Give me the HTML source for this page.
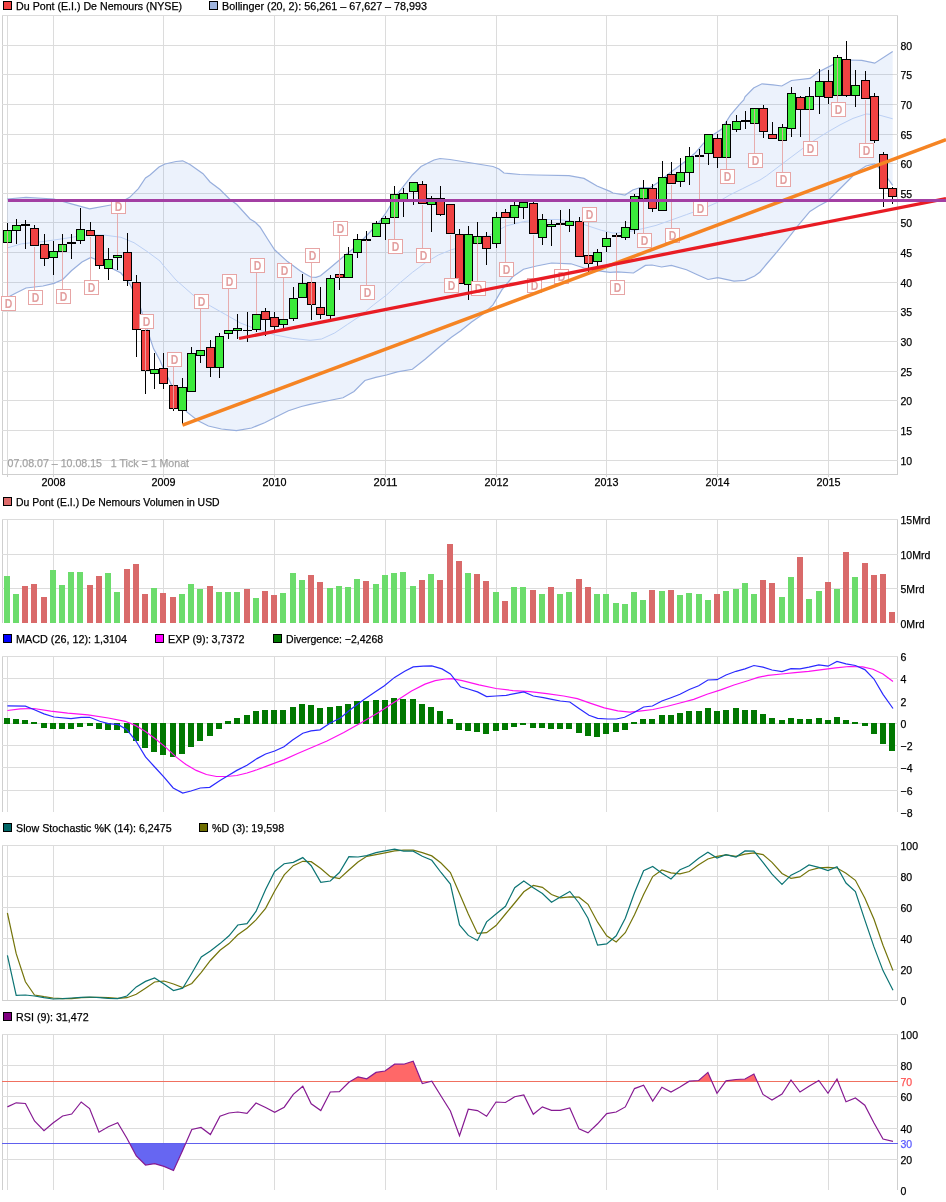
<!DOCTYPE html>
<html><head><meta charset="utf-8"><title>Chart</title>
<style>html,body{margin:0;padding:0;background:#fff}svg{display:block;will-change:transform}text{font-family:"Liberation Sans",sans-serif}</style>
</head><body>
<svg width="946" height="1202" viewBox="0 0 946 1202">
<rect width="946" height="1202" fill="#fff"/>
<rect x="2" y="15" width="1" height="459" fill="#cfcfcf"/>
<rect x="7" y="15" width="1" height="459" fill="#dcdcdc"/>
<rect x="897" y="15" width="1" height="459" fill="#cfcfcf"/>
<rect x="53" y="15" width="1" height="459" fill="#dcdcdc"/>
<rect x="163" y="15" width="1" height="459" fill="#dcdcdc"/>
<rect x="274" y="15" width="1" height="459" fill="#dcdcdc"/>
<rect x="385" y="15" width="1" height="459" fill="#dcdcdc"/>
<rect x="496" y="15" width="1" height="459" fill="#dcdcdc"/>
<rect x="606" y="15" width="1" height="459" fill="#dcdcdc"/>
<rect x="717" y="15" width="1" height="459" fill="#dcdcdc"/>
<rect x="828" y="15" width="1" height="459" fill="#dcdcdc"/>
<rect x="2" y="15" width="896" height="1" fill="#dcdcdc"/>
<rect x="2" y="45" width="896" height="1" fill="#dcdcdc"/>
<rect x="2" y="74" width="896" height="1" fill="#dcdcdc"/>
<rect x="2" y="104" width="896" height="1" fill="#dcdcdc"/>
<rect x="2" y="134" width="896" height="1" fill="#dcdcdc"/>
<rect x="2" y="163" width="896" height="1" fill="#dcdcdc"/>
<rect x="2" y="193" width="896" height="1" fill="#dcdcdc"/>
<rect x="2" y="222" width="896" height="1" fill="#dcdcdc"/>
<rect x="2" y="252" width="896" height="1" fill="#dcdcdc"/>
<rect x="2" y="282" width="896" height="1" fill="#dcdcdc"/>
<rect x="2" y="311" width="896" height="1" fill="#dcdcdc"/>
<rect x="2" y="341" width="896" height="1" fill="#dcdcdc"/>
<rect x="2" y="371" width="896" height="1" fill="#dcdcdc"/>
<rect x="2" y="400" width="896" height="1" fill="#dcdcdc"/>
<rect x="2" y="430" width="896" height="1" fill="#dcdcdc"/>
<rect x="2" y="460" width="896" height="1" fill="#dcdcdc"/>
<rect x="2" y="474" width="896" height="1" fill="#cfcfcf"/>
<rect x="7" y="474" width="1" height="3" fill="#cfcfcf"/>
<rect x="53" y="474" width="1" height="3" fill="#cfcfcf"/>
<rect x="163" y="474" width="1" height="3" fill="#cfcfcf"/>
<rect x="274" y="474" width="1" height="3" fill="#cfcfcf"/>
<rect x="385" y="474" width="1" height="3" fill="#cfcfcf"/>
<rect x="496" y="474" width="1" height="3" fill="#cfcfcf"/>
<rect x="606" y="474" width="1" height="3" fill="#cfcfcf"/>
<rect x="717" y="474" width="1" height="3" fill="#cfcfcf"/>
<rect x="828" y="474" width="1" height="3" fill="#cfcfcf"/>
<polygon points="7.0,199.0 26.0,197.3 54.0,199.0 71.4,203.8 89.7,208.8 108.0,205.5 117.8,203.8 129.7,197.3 138.4,188.6 145.5,178.0 150.0,175.0 159.0,167.0 165.0,164.0 176.0,161.5 182.7,160.8 190.0,164.5 203.0,173.7 210.0,182.0 220.0,189.5 230.0,199.5 236.8,204.5 250.0,219.0 255.0,222.0 260.0,227.0 267.6,239.0 274.6,249.8 287.5,261.6 300.0,270.8 304.5,273.5 310.8,277.0 316.0,277.3 320.5,275.7 330.0,268.0 343.0,257.0 356.0,246.5 371.0,231.0 380.0,221.0 386.5,212.0 397.0,194.6 412.4,175.0 421.0,166.5 434.0,160.0 440.0,158.5 450.0,159.5 471.6,163.0 493.0,166.5 499.0,169.0 504.0,173.0 520.0,174.5 536.5,175.0 569.0,175.6 584.0,178.4 597.0,186.0 610.0,191.4 613.0,193.0 625.0,195.1 632.7,190.0 640.3,187.5 650.4,187.5 658.0,182.5 671.0,172.0 686.5,160.5 694.8,153.3 703.7,143.1 713.9,134.3 721.5,129.2 730.4,115.2 740.0,103.8 743.8,100.0 745.0,96.8 753.6,88.0 762.0,83.8 773.0,84.9 781.8,86.0 791.5,80.5 810.0,78.4 818.5,71.9 831.5,65.4 840.0,61.0 848.8,60.0 861.8,60.4 874.7,63.2 892.7,51.4 892.7,185.4 883.0,172.0 874.7,163.8 866.0,166.0 857.4,171.4 848.8,180.0 838.0,190.8 827.0,201.6 818.5,206.0 809.9,211.4 799.0,224.3 788.0,238.4 777.4,251.4 766.6,264.0 760.0,272.0 754.6,276.0 745.0,280.3 734.0,281.2 717.8,277.7 708.0,279.5 697.3,274.7 686.5,269.7 671.4,265.4 661.6,267.0 652.0,265.0 645.4,265.4 633.5,273.0 617.3,271.9 610.0,272.4 597.0,270.7 584.0,268.0 571.0,263.8 551.6,263.0 536.5,266.0 523.5,269.2 512.7,276.8 502.0,289.7 493.0,304.9 482.4,314.6 471.6,322.0 460.8,330.8 451.4,337.3 440.5,346.0 425.4,359.0 412.4,369.3 397.3,371.9 386.5,375.0 375.7,377.3 364.9,380.5 354.0,391.4 343.0,397.8 321.6,402.0 310.0,404.3 301.4,406.5 288.4,410.8 275.4,417.3 264.6,422.7 251.6,428.0 236.5,430.7 221.4,429.0 208.4,426.0 197.6,420.5 186.8,411.9 180.0,402.0 172.0,386.0 163.0,367.6 160.0,360.5 153.5,348.6 147.0,329.0 138.4,301.0 129.7,283.8 121.0,273.0 112.4,268.6 99.5,261.0 90.8,257.4 82.0,262.0 71.4,270.8 62.7,279.5 54.0,283.4 43.0,286.0 26.0,288.0 15.0,293.5 7.0,297.8" fill="rgb(97,147,230)" fill-opacity="0.12"/>
<polyline points="7.0,248.0 21.6,243.8 43.0,241.6 65.0,238.4 86.5,235.0 103.8,235.0 121.0,237.3 134.0,242.7 147.0,251.4 160.0,261.0 163.0,265.0 176.0,280.0 193.0,295.0 210.5,306.0 225.7,314.6 240.8,323.2 258.0,329.7 275.4,335.0 292.7,338.4 310.0,340.3 313.0,340.0 321.6,339.0 334.6,333.0 347.6,324.3 360.5,315.7 373.5,304.9 386.5,295.0 399.5,283.2 412.4,272.4 425.4,262.7 438.4,255.0 451.4,249.7 460.0,247.6 471.6,244.3 493.0,233.5 506.0,226.0 523.5,221.6 540.8,219.5 558.0,219.5 575.4,221.6 588.4,226.0 601.4,230.3 613.0,233.0 625.0,232.5 643.0,228.6 656.0,225.4 671.4,220.0 686.5,214.6 701.6,209.2 716.8,202.7 729.7,195.0 742.7,188.6 760.0,180.0 766.6,175.7 788.0,159.5 810.0,143.0 827.0,132.4 840.0,124.9 853.0,118.4 866.0,114.0 879.0,115.0 892.7,118.8" fill="none" stroke="#bcd0f4" stroke-width="1"/>
<polyline points="7.0,199.0 26.0,197.3 54.0,199.0 71.4,203.8 89.7,208.8 108.0,205.5 117.8,203.8 129.7,197.3 138.4,188.6 145.5,178.0 150.0,175.0 159.0,167.0 165.0,164.0 176.0,161.5 182.7,160.8 190.0,164.5 203.0,173.7 210.0,182.0 220.0,189.5 230.0,199.5 236.8,204.5 250.0,219.0 255.0,222.0 260.0,227.0 267.6,239.0 274.6,249.8 287.5,261.6 300.0,270.8 304.5,273.5 310.8,277.0 316.0,277.3 320.5,275.7 330.0,268.0 343.0,257.0 356.0,246.5 371.0,231.0 380.0,221.0 386.5,212.0 397.0,194.6 412.4,175.0 421.0,166.5 434.0,160.0 440.0,158.5 450.0,159.5 471.6,163.0 493.0,166.5 499.0,169.0 504.0,173.0 520.0,174.5 536.5,175.0 569.0,175.6 584.0,178.4 597.0,186.0 610.0,191.4 613.0,193.0 625.0,195.1 632.7,190.0 640.3,187.5 650.4,187.5 658.0,182.5 671.0,172.0 686.5,160.5 694.8,153.3 703.7,143.1 713.9,134.3 721.5,129.2 730.4,115.2 740.0,103.8 743.8,100.0 745.0,96.8 753.6,88.0 762.0,83.8 773.0,84.9 781.8,86.0 791.5,80.5 810.0,78.4 818.5,71.9 831.5,65.4 840.0,61.0 848.8,60.0 861.8,60.4 874.7,63.2 892.7,51.4" fill="none" stroke="#98afdd" stroke-width="1.2"/>
<polyline points="7.0,297.8 15.0,293.5 26.0,288.0 43.0,286.0 54.0,283.4 62.7,279.5 71.4,270.8 82.0,262.0 90.8,257.4 99.5,261.0 112.4,268.6 121.0,273.0 129.7,283.8 138.4,301.0 147.0,329.0 153.5,348.6 160.0,360.5 163.0,367.6 172.0,386.0 180.0,402.0 186.8,411.9 197.6,420.5 208.4,426.0 221.4,429.0 236.5,430.7 251.6,428.0 264.6,422.7 275.4,417.3 288.4,410.8 301.4,406.5 310.0,404.3 321.6,402.0 343.0,397.8 354.0,391.4 364.9,380.5 375.7,377.3 386.5,375.0 397.3,371.9 412.4,369.3 425.4,359.0 440.5,346.0 451.4,337.3 460.8,330.8 471.6,322.0 482.4,314.6 493.0,304.9 502.0,289.7 512.7,276.8 523.5,269.2 536.5,266.0 551.6,263.0 571.0,263.8 584.0,268.0 597.0,270.7 610.0,272.4 617.3,271.9 633.5,273.0 645.4,265.4 652.0,265.0 661.6,267.0 671.4,265.4 686.5,269.7 697.3,274.7 708.0,279.5 717.8,277.7 734.0,281.2 745.0,280.3 754.6,276.0 760.0,272.0 766.6,264.0 777.4,251.4 788.0,238.4 799.0,224.3 809.9,211.4 818.5,206.0 827.0,201.6 838.0,190.8 848.8,180.0 857.4,171.4 866.0,166.0 874.7,163.8 883.0,172.0 892.7,185.4" fill="none" stroke="#98afdd" stroke-width="1.2"/>
<g shape-rendering="crispEdges">
<rect x="7" y="223" width="1" height="20" fill="#000"/>
<rect x="3" y="230" width="9" height="13" fill="#000"/>
<rect x="4" y="231" width="7" height="11" fill="#3bea3b"/>
<rect x="16" y="219" width="1" height="25" fill="#000"/>
<rect x="12" y="225" width="9" height="6" fill="#000"/>
<rect x="13" y="226" width="7" height="4" fill="#3bea3b"/>
<rect x="25" y="220" width="1" height="29" fill="#000"/>
<rect x="21" y="224" width="9" height="2" fill="#000"/>
<rect x="34" y="225" width="1" height="21" fill="#000"/>
<rect x="30" y="228" width="9" height="18" fill="#000"/>
<rect x="31" y="229" width="7" height="16" fill="#f04242"/>
<rect x="44" y="234" width="1" height="32" fill="#000"/>
<rect x="40" y="244" width="9" height="15" fill="#000"/>
<rect x="41" y="245" width="7" height="13" fill="#f04242"/>
<rect x="53" y="241" width="1" height="34" fill="#000"/>
<rect x="49" y="251" width="9" height="7" fill="#000"/>
<rect x="50" y="252" width="7" height="5" fill="#3bea3b"/>
<rect x="62" y="234" width="1" height="18" fill="#000"/>
<rect x="58" y="244" width="9" height="8" fill="#000"/>
<rect x="59" y="245" width="7" height="6" fill="#3bea3b"/>
<rect x="71" y="234" width="1" height="25" fill="#000"/>
<rect x="67" y="242" width="9" height="2" fill="#000"/>
<rect x="80" y="208" width="1" height="36" fill="#000"/>
<rect x="76" y="229" width="9" height="12" fill="#000"/>
<rect x="77" y="230" width="7" height="10" fill="#3bea3b"/>
<rect x="90" y="222" width="1" height="14" fill="#000"/>
<rect x="86" y="230" width="9" height="6" fill="#000"/>
<rect x="87" y="231" width="7" height="4" fill="#f04242"/>
<rect x="99" y="235" width="1" height="34" fill="#000"/>
<rect x="95" y="235" width="9" height="31" fill="#000"/>
<rect x="96" y="236" width="7" height="29" fill="#f04242"/>
<rect x="108" y="248" width="1" height="32" fill="#000"/>
<rect x="104" y="259" width="9" height="10" fill="#000"/>
<rect x="105" y="260" width="7" height="8" fill="#3bea3b"/>
<rect x="117" y="255" width="1" height="15" fill="#000"/>
<rect x="113" y="255" width="9" height="3" fill="#000"/>
<rect x="114" y="256" width="7" height="1" fill="#3bea3b"/>
<rect x="127" y="233" width="1" height="53" fill="#000"/>
<rect x="123" y="252" width="9" height="29" fill="#000"/>
<rect x="124" y="253" width="7" height="27" fill="#f04242"/>
<rect x="136" y="275" width="1" height="82" fill="#000"/>
<rect x="132" y="282" width="9" height="48" fill="#000"/>
<rect x="133" y="283" width="7" height="46" fill="#f04242"/>
<rect x="145" y="330" width="1" height="64" fill="#000"/>
<rect x="141" y="330" width="9" height="41" fill="#000"/>
<rect x="142" y="331" width="7" height="39" fill="#f04242"/>
<rect x="154" y="353" width="1" height="36" fill="#000"/>
<rect x="150" y="369" width="9" height="5" fill="#000"/>
<rect x="151" y="370" width="7" height="3" fill="#3bea3b"/>
<rect x="163" y="353" width="1" height="36" fill="#000"/>
<rect x="159" y="368" width="9" height="16" fill="#000"/>
<rect x="160" y="369" width="7" height="14" fill="#f04242"/>
<rect x="173" y="385" width="1" height="26" fill="#000"/>
<rect x="169" y="385" width="9" height="24" fill="#000"/>
<rect x="170" y="386" width="7" height="22" fill="#f04242"/>
<rect x="182" y="378" width="1" height="46" fill="#000"/>
<rect x="178" y="387" width="9" height="24" fill="#000"/>
<rect x="179" y="388" width="7" height="22" fill="#3bea3b"/>
<rect x="191" y="347" width="1" height="45" fill="#000"/>
<rect x="187" y="353" width="9" height="39" fill="#000"/>
<rect x="188" y="354" width="7" height="37" fill="#3bea3b"/>
<rect x="200" y="350" width="1" height="13" fill="#000"/>
<rect x="196" y="350" width="9" height="6" fill="#000"/>
<rect x="197" y="351" width="7" height="4" fill="#3bea3b"/>
<rect x="210" y="340" width="1" height="37" fill="#000"/>
<rect x="206" y="347" width="9" height="21" fill="#000"/>
<rect x="207" y="348" width="7" height="19" fill="#f04242"/>
<rect x="219" y="333" width="1" height="45" fill="#000"/>
<rect x="215" y="336" width="9" height="32" fill="#000"/>
<rect x="216" y="337" width="7" height="30" fill="#3bea3b"/>
<rect x="228" y="330" width="1" height="9" fill="#000"/>
<rect x="224" y="330" width="9" height="4" fill="#000"/>
<rect x="225" y="331" width="7" height="2" fill="#3bea3b"/>
<rect x="237" y="314" width="1" height="25" fill="#000"/>
<rect x="233" y="328" width="9" height="3" fill="#000"/>
<rect x="234" y="329" width="7" height="1" fill="#3bea3b"/>
<rect x="247" y="312" width="1" height="30" fill="#000"/>
<rect x="243" y="330" width="9" height="1" fill="#000"/>
<rect x="256" y="314" width="1" height="18" fill="#000"/>
<rect x="252" y="314" width="9" height="16" fill="#000"/>
<rect x="253" y="315" width="7" height="14" fill="#3bea3b"/>
<rect x="265" y="308" width="1" height="28" fill="#000"/>
<rect x="261" y="311" width="9" height="9" fill="#000"/>
<rect x="262" y="312" width="7" height="7" fill="#f04242"/>
<rect x="274" y="312" width="1" height="18" fill="#000"/>
<rect x="270" y="317" width="9" height="10" fill="#000"/>
<rect x="271" y="318" width="7" height="8" fill="#f04242"/>
<rect x="283" y="319" width="1" height="9" fill="#000"/>
<rect x="279" y="319" width="9" height="6" fill="#000"/>
<rect x="280" y="320" width="7" height="4" fill="#3bea3b"/>
<rect x="293" y="287" width="1" height="34" fill="#000"/>
<rect x="289" y="298" width="9" height="21" fill="#000"/>
<rect x="290" y="299" width="7" height="19" fill="#3bea3b"/>
<rect x="302" y="274" width="1" height="24" fill="#000"/>
<rect x="298" y="283" width="9" height="15" fill="#000"/>
<rect x="299" y="284" width="7" height="13" fill="#3bea3b"/>
<rect x="311" y="282" width="1" height="38" fill="#000"/>
<rect x="307" y="282" width="9" height="23" fill="#000"/>
<rect x="308" y="283" width="7" height="21" fill="#f04242"/>
<rect x="320" y="287" width="1" height="32" fill="#000"/>
<rect x="316" y="307" width="9" height="8" fill="#000"/>
<rect x="317" y="308" width="7" height="6" fill="#f04242"/>
<rect x="330" y="275" width="1" height="44" fill="#000"/>
<rect x="326" y="278" width="9" height="38" fill="#000"/>
<rect x="327" y="279" width="7" height="36" fill="#3bea3b"/>
<rect x="339" y="274" width="1" height="16" fill="#000"/>
<rect x="335" y="274" width="9" height="4" fill="#000"/>
<rect x="336" y="275" width="7" height="2" fill="#f04242"/>
<rect x="348" y="247" width="1" height="31" fill="#000"/>
<rect x="344" y="254" width="9" height="24" fill="#000"/>
<rect x="345" y="255" width="7" height="22" fill="#3bea3b"/>
<rect x="357" y="234" width="1" height="24" fill="#000"/>
<rect x="353" y="239" width="9" height="14" fill="#000"/>
<rect x="354" y="240" width="7" height="12" fill="#3bea3b"/>
<rect x="366" y="231" width="1" height="10" fill="#000"/>
<rect x="362" y="239" width="9" height="2" fill="#000"/>
<rect x="376" y="221" width="1" height="16" fill="#000"/>
<rect x="372" y="223" width="9" height="14" fill="#000"/>
<rect x="373" y="224" width="7" height="12" fill="#3bea3b"/>
<rect x="385" y="216" width="1" height="24" fill="#000"/>
<rect x="381" y="218" width="9" height="6" fill="#000"/>
<rect x="382" y="219" width="7" height="4" fill="#3bea3b"/>
<rect x="394" y="186" width="1" height="32" fill="#000"/>
<rect x="390" y="194" width="9" height="24" fill="#000"/>
<rect x="391" y="195" width="7" height="22" fill="#3bea3b"/>
<rect x="403" y="188" width="1" height="29" fill="#000"/>
<rect x="399" y="193" width="9" height="7" fill="#000"/>
<rect x="400" y="194" width="7" height="5" fill="#3bea3b"/>
<rect x="413" y="182" width="1" height="23" fill="#000"/>
<rect x="409" y="182" width="9" height="10" fill="#000"/>
<rect x="410" y="183" width="7" height="8" fill="#3bea3b"/>
<rect x="422" y="181" width="1" height="23" fill="#000"/>
<rect x="418" y="184" width="9" height="20" fill="#000"/>
<rect x="419" y="185" width="7" height="18" fill="#f04242"/>
<rect x="431" y="196" width="1" height="36" fill="#000"/>
<rect x="427" y="198" width="9" height="7" fill="#000"/>
<rect x="428" y="199" width="7" height="5" fill="#3bea3b"/>
<rect x="440" y="186" width="1" height="30" fill="#000"/>
<rect x="436" y="198" width="9" height="17" fill="#000"/>
<rect x="437" y="199" width="7" height="15" fill="#f04242"/>
<rect x="450" y="204" width="1" height="30" fill="#000"/>
<rect x="446" y="204" width="9" height="30" fill="#000"/>
<rect x="447" y="205" width="7" height="28" fill="#f04242"/>
<rect x="459" y="229" width="1" height="55" fill="#000"/>
<rect x="455" y="234" width="9" height="50" fill="#000"/>
<rect x="456" y="235" width="7" height="48" fill="#f04242"/>
<rect x="468" y="226" width="1" height="74" fill="#000"/>
<rect x="464" y="234" width="9" height="51" fill="#000"/>
<rect x="465" y="235" width="7" height="49" fill="#3bea3b"/>
<rect x="477" y="222" width="1" height="22" fill="#000"/>
<rect x="473" y="236" width="9" height="8" fill="#000"/>
<rect x="474" y="237" width="7" height="6" fill="#3bea3b"/>
<rect x="486" y="232" width="1" height="33" fill="#000"/>
<rect x="482" y="236" width="9" height="13" fill="#000"/>
<rect x="483" y="237" width="7" height="11" fill="#f04242"/>
<rect x="496" y="212" width="1" height="36" fill="#000"/>
<rect x="492" y="217" width="9" height="27" fill="#000"/>
<rect x="493" y="218" width="7" height="25" fill="#3bea3b"/>
<rect x="505" y="209" width="1" height="9" fill="#000"/>
<rect x="501" y="212" width="9" height="6" fill="#000"/>
<rect x="502" y="213" width="7" height="4" fill="#f04242"/>
<rect x="514" y="202" width="1" height="22" fill="#000"/>
<rect x="510" y="205" width="9" height="13" fill="#000"/>
<rect x="511" y="206" width="7" height="11" fill="#3bea3b"/>
<rect x="523" y="202" width="1" height="17" fill="#000"/>
<rect x="519" y="202" width="9" height="6" fill="#000"/>
<rect x="520" y="203" width="7" height="4" fill="#3bea3b"/>
<rect x="533" y="202" width="1" height="32" fill="#000"/>
<rect x="529" y="203" width="9" height="31" fill="#000"/>
<rect x="530" y="204" width="7" height="29" fill="#f04242"/>
<rect x="542" y="214" width="1" height="31" fill="#000"/>
<rect x="538" y="219" width="9" height="19" fill="#000"/>
<rect x="539" y="220" width="7" height="17" fill="#3bea3b"/>
<rect x="551" y="220" width="1" height="26" fill="#000"/>
<rect x="547" y="224" width="9" height="3" fill="#000"/>
<rect x="548" y="225" width="7" height="1" fill="#3bea3b"/>
<rect x="560" y="210" width="1" height="15" fill="#000"/>
<rect x="556" y="223" width="9" height="2" fill="#000"/>
<rect x="569" y="209" width="1" height="23" fill="#000"/>
<rect x="565" y="221" width="9" height="5" fill="#000"/>
<rect x="566" y="222" width="7" height="3" fill="#3bea3b"/>
<rect x="579" y="217" width="1" height="40" fill="#000"/>
<rect x="575" y="221" width="9" height="36" fill="#000"/>
<rect x="576" y="222" width="7" height="34" fill="#f04242"/>
<rect x="588" y="255" width="1" height="17" fill="#000"/>
<rect x="584" y="255" width="9" height="9" fill="#000"/>
<rect x="585" y="256" width="7" height="7" fill="#f04242"/>
<rect x="597" y="249" width="1" height="17" fill="#000"/>
<rect x="593" y="252" width="9" height="10" fill="#000"/>
<rect x="594" y="253" width="7" height="8" fill="#3bea3b"/>
<rect x="606" y="232" width="1" height="20" fill="#000"/>
<rect x="602" y="238" width="9" height="9" fill="#000"/>
<rect x="603" y="239" width="7" height="7" fill="#3bea3b"/>
<rect x="616" y="233" width="1" height="4" fill="#000"/>
<rect x="612" y="235" width="9" height="2" fill="#000"/>
<rect x="625" y="221" width="1" height="19" fill="#000"/>
<rect x="621" y="227" width="9" height="11" fill="#000"/>
<rect x="622" y="228" width="7" height="9" fill="#3bea3b"/>
<rect x="634" y="194" width="1" height="40" fill="#000"/>
<rect x="630" y="196" width="9" height="34" fill="#000"/>
<rect x="631" y="197" width="7" height="32" fill="#3bea3b"/>
<rect x="643" y="180" width="1" height="19" fill="#000"/>
<rect x="639" y="188" width="9" height="11" fill="#000"/>
<rect x="640" y="189" width="7" height="9" fill="#3bea3b"/>
<rect x="652" y="184" width="1" height="28" fill="#000"/>
<rect x="648" y="188" width="9" height="21" fill="#000"/>
<rect x="649" y="189" width="7" height="19" fill="#f04242"/>
<rect x="662" y="161" width="1" height="50" fill="#000"/>
<rect x="658" y="177" width="9" height="34" fill="#000"/>
<rect x="659" y="178" width="7" height="32" fill="#3bea3b"/>
<rect x="671" y="162" width="1" height="22" fill="#000"/>
<rect x="667" y="174" width="9" height="10" fill="#000"/>
<rect x="668" y="175" width="7" height="8" fill="#f04242"/>
<rect x="680" y="158" width="1" height="29" fill="#000"/>
<rect x="676" y="172" width="9" height="10" fill="#000"/>
<rect x="677" y="173" width="7" height="8" fill="#3bea3b"/>
<rect x="689" y="147" width="1" height="38" fill="#000"/>
<rect x="685" y="156" width="9" height="17" fill="#000"/>
<rect x="686" y="157" width="7" height="15" fill="#3bea3b"/>
<rect x="699" y="149" width="1" height="8" fill="#000"/>
<rect x="695" y="155" width="9" height="2" fill="#000"/>
<rect x="708" y="134" width="1" height="31" fill="#000"/>
<rect x="704" y="134" width="9" height="20" fill="#000"/>
<rect x="705" y="135" width="7" height="18" fill="#3bea3b"/>
<rect x="717" y="134" width="1" height="34" fill="#000"/>
<rect x="713" y="138" width="9" height="20" fill="#000"/>
<rect x="714" y="139" width="7" height="18" fill="#f04242"/>
<rect x="726" y="121" width="1" height="37" fill="#000"/>
<rect x="722" y="124" width="9" height="34" fill="#000"/>
<rect x="723" y="125" width="7" height="32" fill="#3bea3b"/>
<rect x="736" y="115" width="1" height="17" fill="#000"/>
<rect x="732" y="121" width="9" height="9" fill="#000"/>
<rect x="733" y="122" width="7" height="7" fill="#3bea3b"/>
<rect x="745" y="111" width="1" height="18" fill="#000"/>
<rect x="741" y="120" width="9" height="2" fill="#000"/>
<rect x="754" y="108" width="1" height="16" fill="#000"/>
<rect x="750" y="108" width="9" height="16" fill="#000"/>
<rect x="751" y="109" width="7" height="14" fill="#3bea3b"/>
<rect x="763" y="105" width="1" height="33" fill="#000"/>
<rect x="759" y="108" width="9" height="24" fill="#000"/>
<rect x="760" y="109" width="7" height="22" fill="#f04242"/>
<rect x="772" y="122" width="1" height="17" fill="#000"/>
<rect x="768" y="134" width="9" height="5" fill="#000"/>
<rect x="769" y="135" width="7" height="3" fill="#f04242"/>
<rect x="782" y="124" width="1" height="17" fill="#000"/>
<rect x="778" y="127" width="9" height="14" fill="#000"/>
<rect x="779" y="128" width="7" height="12" fill="#3bea3b"/>
<rect x="791" y="87" width="1" height="50" fill="#000"/>
<rect x="787" y="93" width="9" height="36" fill="#000"/>
<rect x="788" y="94" width="7" height="34" fill="#3bea3b"/>
<rect x="800" y="96" width="1" height="41" fill="#000"/>
<rect x="796" y="97" width="9" height="13" fill="#000"/>
<rect x="797" y="98" width="7" height="11" fill="#f04242"/>
<rect x="809" y="87" width="1" height="23" fill="#000"/>
<rect x="805" y="96" width="9" height="14" fill="#000"/>
<rect x="806" y="97" width="7" height="12" fill="#3bea3b"/>
<rect x="819" y="69" width="1" height="45" fill="#000"/>
<rect x="815" y="81" width="9" height="16" fill="#000"/>
<rect x="816" y="82" width="7" height="14" fill="#3bea3b"/>
<rect x="828" y="70" width="1" height="34" fill="#000"/>
<rect x="824" y="81" width="9" height="17" fill="#000"/>
<rect x="825" y="82" width="7" height="15" fill="#f04242"/>
<rect x="837" y="55" width="1" height="41" fill="#000"/>
<rect x="833" y="57" width="9" height="39" fill="#000"/>
<rect x="834" y="58" width="7" height="37" fill="#3bea3b"/>
<rect x="846" y="41" width="1" height="56" fill="#000"/>
<rect x="842" y="59" width="9" height="37" fill="#000"/>
<rect x="843" y="60" width="7" height="35" fill="#f04242"/>
<rect x="855" y="70" width="1" height="37" fill="#000"/>
<rect x="851" y="85" width="9" height="11" fill="#000"/>
<rect x="852" y="86" width="7" height="9" fill="#3bea3b"/>
<rect x="865" y="71" width="1" height="28" fill="#000"/>
<rect x="861" y="80" width="9" height="19" fill="#000"/>
<rect x="862" y="81" width="7" height="17" fill="#f04242"/>
<rect x="874" y="93" width="1" height="50" fill="#000"/>
<rect x="870" y="96" width="9" height="45" fill="#000"/>
<rect x="871" y="97" width="7" height="43" fill="#f04242"/>
<rect x="883" y="152" width="1" height="55" fill="#000"/>
<rect x="879" y="154" width="9" height="35" fill="#000"/>
<rect x="880" y="155" width="7" height="33" fill="#f04242"/>
<rect x="892" y="187" width="1" height="17" fill="#000"/>
<rect x="888" y="188" width="9" height="9" fill="#000"/>
<rect x="889" y="189" width="7" height="7" fill="#f04242"/>
<rect x="7" y="231" width="1" height="66" fill="#e7a5a5" opacity="0.9"/>
<rect x="1" y="296" width="15" height="15" fill="#e7a5a5"/><rect x="2" y="297" width="13" height="13" fill="#fff"/>
<rect x="34" y="247" width="1" height="44" fill="#e7a5a5" opacity="0.9"/>
<rect x="28" y="290" width="15" height="15" fill="#e7a5a5"/><rect x="29" y="291" width="13" height="13" fill="#fff"/>
<rect x="62" y="245" width="1" height="45" fill="#e7a5a5" opacity="0.9"/>
<rect x="56" y="289" width="15" height="15" fill="#e7a5a5"/><rect x="57" y="290" width="13" height="13" fill="#fff"/>
<rect x="90" y="237" width="1" height="44" fill="#e7a5a5" opacity="0.9"/>
<rect x="84" y="280" width="15" height="15" fill="#e7a5a5"/><rect x="85" y="281" width="13" height="13" fill="#fff"/>
<rect x="117" y="214" width="1" height="41" fill="#e7a5a5" opacity="0.9"/>
<rect x="111" y="199" width="15" height="15" fill="#e7a5a5"/><rect x="112" y="200" width="13" height="13" fill="#fff"/>
<rect x="145" y="329" width="1" height="42" fill="#e7a5a5" opacity="0.9"/>
<rect x="139" y="314" width="15" height="15" fill="#e7a5a5"/><rect x="140" y="315" width="13" height="13" fill="#fff"/>
<rect x="173" y="367" width="1" height="42" fill="#e7a5a5" opacity="0.9"/>
<rect x="167" y="352" width="15" height="15" fill="#e7a5a5"/><rect x="168" y="353" width="13" height="13" fill="#fff"/>
<rect x="200" y="309" width="1" height="41" fill="#e7a5a5" opacity="0.9"/>
<rect x="194" y="294" width="15" height="15" fill="#e7a5a5"/><rect x="195" y="295" width="13" height="13" fill="#fff"/>
<rect x="228" y="289" width="1" height="41" fill="#e7a5a5" opacity="0.9"/>
<rect x="222" y="274" width="15" height="15" fill="#e7a5a5"/><rect x="223" y="275" width="13" height="13" fill="#fff"/>
<rect x="256" y="273" width="1" height="41" fill="#e7a5a5" opacity="0.9"/>
<rect x="250" y="258" width="15" height="15" fill="#e7a5a5"/><rect x="251" y="259" width="13" height="13" fill="#fff"/>
<rect x="283" y="278" width="1" height="41" fill="#e7a5a5" opacity="0.9"/>
<rect x="277" y="263" width="15" height="15" fill="#e7a5a5"/><rect x="278" y="264" width="13" height="13" fill="#fff"/>
<rect x="311" y="263" width="1" height="42" fill="#e7a5a5" opacity="0.9"/>
<rect x="305" y="248" width="15" height="15" fill="#e7a5a5"/><rect x="306" y="249" width="13" height="13" fill="#fff"/>
<rect x="339" y="236" width="1" height="42" fill="#e7a5a5" opacity="0.9"/>
<rect x="333" y="221" width="15" height="15" fill="#e7a5a5"/><rect x="334" y="222" width="13" height="13" fill="#fff"/>
<rect x="366" y="240" width="1" height="45" fill="#e7a5a5" opacity="0.9"/>
<rect x="360" y="285" width="15" height="15" fill="#e7a5a5"/><rect x="361" y="286" width="13" height="13" fill="#fff"/>
<rect x="394" y="195" width="1" height="45" fill="#e7a5a5" opacity="0.9"/>
<rect x="388" y="239" width="15" height="15" fill="#e7a5a5"/><rect x="389" y="240" width="13" height="13" fill="#fff"/>
<rect x="422" y="205" width="1" height="44" fill="#e7a5a5" opacity="0.9"/>
<rect x="416" y="248" width="15" height="15" fill="#e7a5a5"/><rect x="417" y="249" width="13" height="13" fill="#fff"/>
<rect x="450" y="235" width="1" height="44" fill="#e7a5a5" opacity="0.9"/>
<rect x="444" y="278" width="15" height="15" fill="#e7a5a5"/><rect x="445" y="279" width="13" height="13" fill="#fff"/>
<rect x="477" y="237" width="1" height="45" fill="#e7a5a5" opacity="0.9"/>
<rect x="471" y="281" width="15" height="15" fill="#e7a5a5"/><rect x="472" y="282" width="13" height="13" fill="#fff"/>
<rect x="505" y="219" width="1" height="44" fill="#e7a5a5" opacity="0.9"/>
<rect x="499" y="262" width="15" height="15" fill="#e7a5a5"/><rect x="500" y="263" width="13" height="13" fill="#fff"/>
<rect x="533" y="235" width="1" height="44" fill="#e7a5a5" opacity="0.9"/>
<rect x="527" y="278" width="15" height="15" fill="#e7a5a5"/><rect x="528" y="279" width="13" height="13" fill="#fff"/>
<rect x="560" y="223" width="1" height="46" fill="#e7a5a5" opacity="0.9"/>
<rect x="554" y="269" width="15" height="15" fill="#e7a5a5"/><rect x="555" y="270" width="13" height="13" fill="#fff"/>
<rect x="588" y="222" width="1" height="42" fill="#e7a5a5" opacity="0.9"/>
<rect x="582" y="207" width="15" height="15" fill="#e7a5a5"/><rect x="583" y="208" width="13" height="13" fill="#fff"/>
<rect x="616" y="235" width="1" height="45" fill="#e7a5a5" opacity="0.9"/>
<rect x="610" y="280" width="15" height="15" fill="#e7a5a5"/><rect x="611" y="281" width="13" height="13" fill="#fff"/>
<rect x="643" y="189" width="1" height="45" fill="#e7a5a5" opacity="0.9"/>
<rect x="637" y="233" width="15" height="15" fill="#e7a5a5"/><rect x="638" y="234" width="13" height="13" fill="#fff"/>
<rect x="671" y="185" width="1" height="44" fill="#e7a5a5" opacity="0.9"/>
<rect x="665" y="228" width="15" height="15" fill="#e7a5a5"/><rect x="666" y="229" width="13" height="13" fill="#fff"/>
<rect x="699" y="155" width="1" height="46" fill="#e7a5a5" opacity="0.9"/>
<rect x="693" y="201" width="15" height="15" fill="#e7a5a5"/><rect x="694" y="202" width="13" height="13" fill="#fff"/>
<rect x="726" y="125" width="1" height="45" fill="#e7a5a5" opacity="0.9"/>
<rect x="720" y="169" width="15" height="15" fill="#e7a5a5"/><rect x="721" y="170" width="13" height="13" fill="#fff"/>
<rect x="754" y="109" width="1" height="45" fill="#e7a5a5" opacity="0.9"/>
<rect x="748" y="153" width="15" height="15" fill="#e7a5a5"/><rect x="749" y="154" width="13" height="13" fill="#fff"/>
<rect x="782" y="128" width="1" height="45" fill="#e7a5a5" opacity="0.9"/>
<rect x="776" y="172" width="15" height="15" fill="#e7a5a5"/><rect x="777" y="173" width="13" height="13" fill="#fff"/>
<rect x="809" y="97" width="1" height="45" fill="#e7a5a5" opacity="0.9"/>
<rect x="803" y="141" width="15" height="15" fill="#e7a5a5"/><rect x="804" y="142" width="13" height="13" fill="#fff"/>
<rect x="837" y="58" width="1" height="45" fill="#e7a5a5" opacity="0.9"/>
<rect x="831" y="102" width="15" height="15" fill="#e7a5a5"/><rect x="832" y="103" width="13" height="13" fill="#fff"/>
<rect x="865" y="100" width="1" height="44" fill="#e7a5a5" opacity="0.9"/>
<rect x="859" y="143" width="15" height="15" fill="#e7a5a5"/><rect x="860" y="144" width="13" height="13" fill="#fff"/>
</g>
<text x="8.6" y="307.7" font-size="12" font-weight="bold" fill="#e3a0a0" text-anchor="middle" textLength="7.6" lengthAdjust="spacingAndGlyphs">D</text>
<text x="35.6" y="301.7" font-size="12" font-weight="bold" fill="#e3a0a0" text-anchor="middle" textLength="7.6" lengthAdjust="spacingAndGlyphs">D</text>
<text x="63.6" y="300.7" font-size="12" font-weight="bold" fill="#e3a0a0" text-anchor="middle" textLength="7.6" lengthAdjust="spacingAndGlyphs">D</text>
<text x="91.6" y="291.7" font-size="12" font-weight="bold" fill="#e3a0a0" text-anchor="middle" textLength="7.6" lengthAdjust="spacingAndGlyphs">D</text>
<text x="118.6" y="210.7" font-size="12" font-weight="bold" fill="#e3a0a0" text-anchor="middle" textLength="7.6" lengthAdjust="spacingAndGlyphs">D</text>
<text x="146.6" y="325.7" font-size="12" font-weight="bold" fill="#e3a0a0" text-anchor="middle" textLength="7.6" lengthAdjust="spacingAndGlyphs">D</text>
<text x="174.6" y="363.7" font-size="12" font-weight="bold" fill="#e3a0a0" text-anchor="middle" textLength="7.6" lengthAdjust="spacingAndGlyphs">D</text>
<text x="201.6" y="305.7" font-size="12" font-weight="bold" fill="#e3a0a0" text-anchor="middle" textLength="7.6" lengthAdjust="spacingAndGlyphs">D</text>
<text x="229.6" y="285.7" font-size="12" font-weight="bold" fill="#e3a0a0" text-anchor="middle" textLength="7.6" lengthAdjust="spacingAndGlyphs">D</text>
<text x="257.6" y="269.7" font-size="12" font-weight="bold" fill="#e3a0a0" text-anchor="middle" textLength="7.6" lengthAdjust="spacingAndGlyphs">D</text>
<text x="284.6" y="274.7" font-size="12" font-weight="bold" fill="#e3a0a0" text-anchor="middle" textLength="7.6" lengthAdjust="spacingAndGlyphs">D</text>
<text x="312.6" y="259.7" font-size="12" font-weight="bold" fill="#e3a0a0" text-anchor="middle" textLength="7.6" lengthAdjust="spacingAndGlyphs">D</text>
<text x="340.6" y="232.7" font-size="12" font-weight="bold" fill="#e3a0a0" text-anchor="middle" textLength="7.6" lengthAdjust="spacingAndGlyphs">D</text>
<text x="367.6" y="296.7" font-size="12" font-weight="bold" fill="#e3a0a0" text-anchor="middle" textLength="7.6" lengthAdjust="spacingAndGlyphs">D</text>
<text x="395.6" y="250.7" font-size="12" font-weight="bold" fill="#e3a0a0" text-anchor="middle" textLength="7.6" lengthAdjust="spacingAndGlyphs">D</text>
<text x="423.6" y="259.7" font-size="12" font-weight="bold" fill="#e3a0a0" text-anchor="middle" textLength="7.6" lengthAdjust="spacingAndGlyphs">D</text>
<text x="451.6" y="289.7" font-size="12" font-weight="bold" fill="#e3a0a0" text-anchor="middle" textLength="7.6" lengthAdjust="spacingAndGlyphs">D</text>
<text x="478.6" y="292.7" font-size="12" font-weight="bold" fill="#e3a0a0" text-anchor="middle" textLength="7.6" lengthAdjust="spacingAndGlyphs">D</text>
<text x="506.6" y="273.7" font-size="12" font-weight="bold" fill="#e3a0a0" text-anchor="middle" textLength="7.6" lengthAdjust="spacingAndGlyphs">D</text>
<text x="534.6" y="289.7" font-size="12" font-weight="bold" fill="#e3a0a0" text-anchor="middle" textLength="7.6" lengthAdjust="spacingAndGlyphs">D</text>
<text x="561.6" y="280.7" font-size="12" font-weight="bold" fill="#e3a0a0" text-anchor="middle" textLength="7.6" lengthAdjust="spacingAndGlyphs">D</text>
<text x="589.6" y="218.7" font-size="12" font-weight="bold" fill="#e3a0a0" text-anchor="middle" textLength="7.6" lengthAdjust="spacingAndGlyphs">D</text>
<text x="617.6" y="291.7" font-size="12" font-weight="bold" fill="#e3a0a0" text-anchor="middle" textLength="7.6" lengthAdjust="spacingAndGlyphs">D</text>
<text x="644.6" y="244.7" font-size="12" font-weight="bold" fill="#e3a0a0" text-anchor="middle" textLength="7.6" lengthAdjust="spacingAndGlyphs">D</text>
<text x="672.6" y="239.7" font-size="12" font-weight="bold" fill="#e3a0a0" text-anchor="middle" textLength="7.6" lengthAdjust="spacingAndGlyphs">D</text>
<text x="700.6" y="212.7" font-size="12" font-weight="bold" fill="#e3a0a0" text-anchor="middle" textLength="7.6" lengthAdjust="spacingAndGlyphs">D</text>
<text x="727.6" y="180.7" font-size="12" font-weight="bold" fill="#e3a0a0" text-anchor="middle" textLength="7.6" lengthAdjust="spacingAndGlyphs">D</text>
<text x="755.6" y="164.7" font-size="12" font-weight="bold" fill="#e3a0a0" text-anchor="middle" textLength="7.6" lengthAdjust="spacingAndGlyphs">D</text>
<text x="783.6" y="183.7" font-size="12" font-weight="bold" fill="#e3a0a0" text-anchor="middle" textLength="7.6" lengthAdjust="spacingAndGlyphs">D</text>
<text x="810.6" y="152.7" font-size="12" font-weight="bold" fill="#e3a0a0" text-anchor="middle" textLength="7.6" lengthAdjust="spacingAndGlyphs">D</text>
<text x="838.6" y="113.7" font-size="12" font-weight="bold" fill="#e3a0a0" text-anchor="middle" textLength="7.6" lengthAdjust="spacingAndGlyphs">D</text>
<text x="866.6" y="154.7" font-size="12" font-weight="bold" fill="#e3a0a0" text-anchor="middle" textLength="7.6" lengthAdjust="spacingAndGlyphs">D</text>
<line x1="182.5" y1="425.2" x2="946" y2="139.6" stroke="#f58423" stroke-width="3.5"/>
<line x1="239" y1="338.5" x2="946" y2="198.5" stroke="#e81c24" stroke-width="3.3"/>
<rect x="8" y="199" width="938" height="3" fill="#a33fa3"/>
<text x="900.5" y="49.9" font-size="11.2" fill="#000" stroke="#000" stroke-width="0.25" text-anchor="start" textLength="11.7" lengthAdjust="spacingAndGlyphs">80</text>
<text x="900.5" y="78.9" font-size="11.2" fill="#000" stroke="#000" stroke-width="0.25" text-anchor="start" textLength="11.7" lengthAdjust="spacingAndGlyphs">75</text>
<text x="900.5" y="108.9" font-size="11.2" fill="#000" stroke="#000" stroke-width="0.25" text-anchor="start" textLength="11.7" lengthAdjust="spacingAndGlyphs">70</text>
<text x="900.5" y="138.9" font-size="11.2" fill="#000" stroke="#000" stroke-width="0.25" text-anchor="start" textLength="11.7" lengthAdjust="spacingAndGlyphs">65</text>
<text x="900.5" y="167.9" font-size="11.2" fill="#000" stroke="#000" stroke-width="0.25" text-anchor="start" textLength="11.7" lengthAdjust="spacingAndGlyphs">60</text>
<text x="900.5" y="197.9" font-size="11.2" fill="#000" stroke="#000" stroke-width="0.25" text-anchor="start" textLength="11.7" lengthAdjust="spacingAndGlyphs">55</text>
<text x="900.5" y="226.9" font-size="11.2" fill="#000" stroke="#000" stroke-width="0.25" text-anchor="start" textLength="11.7" lengthAdjust="spacingAndGlyphs">50</text>
<text x="900.5" y="256.9" font-size="11.2" fill="#000" stroke="#000" stroke-width="0.25" text-anchor="start" textLength="11.7" lengthAdjust="spacingAndGlyphs">45</text>
<text x="900.5" y="286.9" font-size="11.2" fill="#000" stroke="#000" stroke-width="0.25" text-anchor="start" textLength="11.7" lengthAdjust="spacingAndGlyphs">40</text>
<text x="900.5" y="315.9" font-size="11.2" fill="#000" stroke="#000" stroke-width="0.25" text-anchor="start" textLength="11.7" lengthAdjust="spacingAndGlyphs">35</text>
<text x="900.5" y="345.9" font-size="11.2" fill="#000" stroke="#000" stroke-width="0.25" text-anchor="start" textLength="11.7" lengthAdjust="spacingAndGlyphs">30</text>
<text x="900.5" y="375.9" font-size="11.2" fill="#000" stroke="#000" stroke-width="0.25" text-anchor="start" textLength="11.7" lengthAdjust="spacingAndGlyphs">25</text>
<text x="900.5" y="404.9" font-size="11.2" fill="#000" stroke="#000" stroke-width="0.25" text-anchor="start" textLength="11.7" lengthAdjust="spacingAndGlyphs">20</text>
<text x="900.5" y="434.9" font-size="11.2" fill="#000" stroke="#000" stroke-width="0.25" text-anchor="start" textLength="11.7" lengthAdjust="spacingAndGlyphs">15</text>
<text x="900.5" y="464.9" font-size="11.2" fill="#000" stroke="#000" stroke-width="0.25" text-anchor="start" textLength="11.7" lengthAdjust="spacingAndGlyphs">10</text>
<text x="53.5" y="486" font-size="11.2" fill="#000" stroke="#000" stroke-width="0.25" text-anchor="middle" textLength="24" lengthAdjust="spacingAndGlyphs">2008</text>
<text x="163.5" y="486" font-size="11.2" fill="#000" stroke="#000" stroke-width="0.25" text-anchor="middle" textLength="24" lengthAdjust="spacingAndGlyphs">2009</text>
<text x="274.5" y="486" font-size="11.2" fill="#000" stroke="#000" stroke-width="0.25" text-anchor="middle" textLength="24" lengthAdjust="spacingAndGlyphs">2010</text>
<text x="385.5" y="486" font-size="11.2" fill="#000" stroke="#000" stroke-width="0.25" text-anchor="middle" textLength="24" lengthAdjust="spacingAndGlyphs">2011</text>
<text x="496.5" y="486" font-size="11.2" fill="#000" stroke="#000" stroke-width="0.25" text-anchor="middle" textLength="24" lengthAdjust="spacingAndGlyphs">2012</text>
<text x="606.5" y="486" font-size="11.2" fill="#000" stroke="#000" stroke-width="0.25" text-anchor="middle" textLength="24" lengthAdjust="spacingAndGlyphs">2013</text>
<text x="717.5" y="486" font-size="11.2" fill="#000" stroke="#000" stroke-width="0.25" text-anchor="middle" textLength="24" lengthAdjust="spacingAndGlyphs">2014</text>
<text x="828.5" y="486" font-size="11.2" fill="#000" stroke="#000" stroke-width="0.25" text-anchor="middle" textLength="24" lengthAdjust="spacingAndGlyphs">2015</text>
<text x="7.5" y="466.5" font-size="11.2" fill="#a4a4a4" stroke="#a4a4a4" stroke-width="0.25" text-anchor="start" textLength="181.5" lengthAdjust="spacingAndGlyphs">07.08.07 – 10.08.15&#160;&#160;&#160;1 Tick = 1 Monat</text>
<rect x="3.5" y="1.5" width="8" height="8" fill="#f04242" stroke="#000" stroke-width="1"/>
<text x="16.1" y="10" font-size="11.2" fill="#000" stroke="#000" stroke-width="0.25" text-anchor="start" textLength="166" lengthAdjust="spacingAndGlyphs">Du Pont (E.I.) De Nemours (NYSE)</text>
<rect x="209.5" y="1.5" width="8" height="8" fill="#9fb4de" stroke="#000" stroke-width="1"/>
<text x="222.1" y="10" font-size="11.2" fill="#000" stroke="#000" stroke-width="0.25" text-anchor="start" textLength="205" lengthAdjust="spacingAndGlyphs">Bollinger (20, 2): 56,261 – 67,627 – 78,993</text>
<rect x="2" y="519" width="1" height="104" fill="#cfcfcf"/>
<rect x="7" y="519" width="1" height="104" fill="#dcdcdc"/>
<rect x="897" y="519" width="1" height="104" fill="#cfcfcf"/>
<rect x="53" y="519" width="1" height="104" fill="#dcdcdc"/>
<rect x="163" y="519" width="1" height="104" fill="#dcdcdc"/>
<rect x="274" y="519" width="1" height="104" fill="#dcdcdc"/>
<rect x="385" y="519" width="1" height="104" fill="#dcdcdc"/>
<rect x="496" y="519" width="1" height="104" fill="#dcdcdc"/>
<rect x="606" y="519" width="1" height="104" fill="#dcdcdc"/>
<rect x="717" y="519" width="1" height="104" fill="#dcdcdc"/>
<rect x="828" y="519" width="1" height="104" fill="#dcdcdc"/>
<rect x="2" y="519" width="896" height="1" fill="#dcdcdc"/>
<rect x="2" y="554" width="896" height="1" fill="#dcdcdc"/>
<rect x="2" y="588" width="896" height="1" fill="#dcdcdc"/>
<rect x="3.5" y="497.5" width="8" height="8" fill="#de6b6b" stroke="#000" stroke-width="1"/>
<text x="16.1" y="506" font-size="11.2" fill="#000" stroke="#000" stroke-width="0.25" text-anchor="start" textLength="203.5" lengthAdjust="spacingAndGlyphs">Du Pont (E.I.) De Nemours Volumen in USD</text>
<g shape-rendering="crispEdges">
<rect x="4" y="576" width="6" height="47" fill="#6cdc6c"/>
<rect x="13" y="594" width="6" height="29" fill="#6cdc6c"/>
<rect x="22" y="586" width="6" height="37" fill="#d96a6a"/>
<rect x="31" y="584" width="6" height="39" fill="#d96a6a"/>
<rect x="41" y="597" width="6" height="26" fill="#d96a6a"/>
<rect x="50" y="570" width="6" height="53" fill="#6cdc6c"/>
<rect x="59" y="585" width="6" height="38" fill="#6cdc6c"/>
<rect x="68" y="572" width="6" height="51" fill="#6cdc6c"/>
<rect x="77" y="572" width="6" height="51" fill="#6cdc6c"/>
<rect x="87" y="585" width="6" height="38" fill="#d96a6a"/>
<rect x="96" y="576" width="6" height="47" fill="#d96a6a"/>
<rect x="105" y="573" width="6" height="50" fill="#6cdc6c"/>
<rect x="114" y="592" width="6" height="31" fill="#6cdc6c"/>
<rect x="124" y="569" width="6" height="54" fill="#d96a6a"/>
<rect x="133" y="564" width="6" height="59" fill="#d96a6a"/>
<rect x="142" y="594" width="6" height="29" fill="#d96a6a"/>
<rect x="151" y="588" width="6" height="35" fill="#6cdc6c"/>
<rect x="160" y="593" width="6" height="30" fill="#d96a6a"/>
<rect x="170" y="597" width="6" height="26" fill="#d96a6a"/>
<rect x="179" y="594" width="6" height="29" fill="#6cdc6c"/>
<rect x="188" y="584" width="6" height="39" fill="#6cdc6c"/>
<rect x="197" y="589" width="6" height="34" fill="#6cdc6c"/>
<rect x="207" y="586" width="6" height="37" fill="#d96a6a"/>
<rect x="216" y="592" width="6" height="31" fill="#6cdc6c"/>
<rect x="225" y="592" width="6" height="31" fill="#6cdc6c"/>
<rect x="234" y="592" width="6" height="31" fill="#6cdc6c"/>
<rect x="244" y="589" width="6" height="34" fill="#d96a6a"/>
<rect x="253" y="598" width="6" height="25" fill="#6cdc6c"/>
<rect x="262" y="591" width="6" height="32" fill="#d96a6a"/>
<rect x="271" y="595" width="6" height="28" fill="#d96a6a"/>
<rect x="280" y="593" width="6" height="30" fill="#6cdc6c"/>
<rect x="290" y="573" width="6" height="50" fill="#6cdc6c"/>
<rect x="299" y="580" width="6" height="43" fill="#6cdc6c"/>
<rect x="308" y="575" width="6" height="48" fill="#d96a6a"/>
<rect x="317" y="582" width="6" height="41" fill="#d96a6a"/>
<rect x="327" y="588" width="6" height="35" fill="#6cdc6c"/>
<rect x="336" y="586" width="6" height="37" fill="#6cdc6c"/>
<rect x="345" y="587" width="6" height="36" fill="#6cdc6c"/>
<rect x="354" y="579" width="6" height="44" fill="#6cdc6c"/>
<rect x="363" y="581" width="6" height="42" fill="#d96a6a"/>
<rect x="373" y="584" width="6" height="39" fill="#6cdc6c"/>
<rect x="382" y="575" width="6" height="48" fill="#6cdc6c"/>
<rect x="391" y="573" width="6" height="50" fill="#6cdc6c"/>
<rect x="400" y="572" width="6" height="51" fill="#6cdc6c"/>
<rect x="410" y="586" width="6" height="37" fill="#6cdc6c"/>
<rect x="419" y="580" width="6" height="43" fill="#d96a6a"/>
<rect x="428" y="574" width="6" height="49" fill="#6cdc6c"/>
<rect x="437" y="580" width="6" height="43" fill="#d96a6a"/>
<rect x="447" y="544" width="6" height="79" fill="#d96a6a"/>
<rect x="456" y="561" width="6" height="62" fill="#d96a6a"/>
<rect x="465" y="573" width="6" height="50" fill="#6cdc6c"/>
<rect x="474" y="574" width="6" height="49" fill="#d96a6a"/>
<rect x="483" y="581" width="6" height="42" fill="#d96a6a"/>
<rect x="493" y="592" width="6" height="31" fill="#6cdc6c"/>
<rect x="502" y="601" width="6" height="22" fill="#d96a6a"/>
<rect x="511" y="587" width="6" height="36" fill="#6cdc6c"/>
<rect x="520" y="587" width="6" height="36" fill="#6cdc6c"/>
<rect x="530" y="590" width="6" height="33" fill="#d96a6a"/>
<rect x="539" y="594" width="6" height="29" fill="#6cdc6c"/>
<rect x="548" y="587" width="6" height="36" fill="#d96a6a"/>
<rect x="557" y="594" width="6" height="29" fill="#6cdc6c"/>
<rect x="566" y="592" width="6" height="31" fill="#6cdc6c"/>
<rect x="576" y="579" width="6" height="44" fill="#d96a6a"/>
<rect x="585" y="587" width="6" height="36" fill="#d96a6a"/>
<rect x="594" y="594" width="6" height="29" fill="#6cdc6c"/>
<rect x="603" y="594" width="6" height="29" fill="#6cdc6c"/>
<rect x="613" y="603" width="6" height="20" fill="#6cdc6c"/>
<rect x="622" y="604" width="6" height="19" fill="#6cdc6c"/>
<rect x="631" y="592" width="6" height="31" fill="#6cdc6c"/>
<rect x="640" y="600" width="6" height="23" fill="#6cdc6c"/>
<rect x="649" y="590" width="6" height="33" fill="#d96a6a"/>
<rect x="659" y="591" width="6" height="32" fill="#6cdc6c"/>
<rect x="668" y="590" width="6" height="33" fill="#d96a6a"/>
<rect x="677" y="595" width="6" height="28" fill="#6cdc6c"/>
<rect x="686" y="593" width="6" height="30" fill="#6cdc6c"/>
<rect x="696" y="594" width="6" height="29" fill="#6cdc6c"/>
<rect x="705" y="600" width="6" height="23" fill="#6cdc6c"/>
<rect x="714" y="594" width="6" height="29" fill="#d96a6a"/>
<rect x="723" y="591" width="6" height="32" fill="#6cdc6c"/>
<rect x="733" y="589" width="6" height="34" fill="#6cdc6c"/>
<rect x="742" y="583" width="6" height="40" fill="#6cdc6c"/>
<rect x="751" y="594" width="6" height="29" fill="#6cdc6c"/>
<rect x="760" y="580" width="6" height="43" fill="#d96a6a"/>
<rect x="769" y="583" width="6" height="40" fill="#d96a6a"/>
<rect x="779" y="597" width="6" height="26" fill="#6cdc6c"/>
<rect x="788" y="577" width="6" height="46" fill="#6cdc6c"/>
<rect x="797" y="557" width="6" height="66" fill="#d96a6a"/>
<rect x="806" y="599" width="6" height="24" fill="#6cdc6c"/>
<rect x="816" y="591" width="6" height="32" fill="#6cdc6c"/>
<rect x="825" y="582" width="6" height="41" fill="#d96a6a"/>
<rect x="834" y="589" width="6" height="34" fill="#6cdc6c"/>
<rect x="843" y="552" width="6" height="71" fill="#d96a6a"/>
<rect x="852" y="577" width="6" height="46" fill="#6cdc6c"/>
<rect x="862" y="563" width="6" height="60" fill="#d96a6a"/>
<rect x="871" y="575" width="6" height="48" fill="#d96a6a"/>
<rect x="880" y="574" width="6" height="49" fill="#d96a6a"/>
<rect x="889" y="612" width="6" height="11" fill="#d96a6a"/>
</g>
<text x="900.5" y="523.9" font-size="11.2" fill="#000" stroke="#000" stroke-width="0.25" text-anchor="start" textLength="29.9" lengthAdjust="spacingAndGlyphs">15Mrd</text>
<text x="900.5" y="558.9" font-size="11.2" fill="#000" stroke="#000" stroke-width="0.25" text-anchor="start" textLength="29.9" lengthAdjust="spacingAndGlyphs">10Mrd</text>
<text x="900.5" y="593.4" font-size="11.2" fill="#000" stroke="#000" stroke-width="0.25" text-anchor="start" textLength="24.0" lengthAdjust="spacingAndGlyphs">5Mrd</text>
<text x="900.5" y="627.9" font-size="11.2" fill="#000" stroke="#000" stroke-width="0.25" text-anchor="start" textLength="24.0" lengthAdjust="spacingAndGlyphs">0Mrd</text>
<rect x="2" y="656" width="1" height="156" fill="#cfcfcf"/>
<rect x="7" y="656" width="1" height="156" fill="#dcdcdc"/>
<rect x="897" y="656" width="1" height="156" fill="#cfcfcf"/>
<rect x="53" y="656" width="1" height="156" fill="#dcdcdc"/>
<rect x="163" y="656" width="1" height="156" fill="#dcdcdc"/>
<rect x="274" y="656" width="1" height="156" fill="#dcdcdc"/>
<rect x="385" y="656" width="1" height="156" fill="#dcdcdc"/>
<rect x="496" y="656" width="1" height="156" fill="#dcdcdc"/>
<rect x="606" y="656" width="1" height="156" fill="#dcdcdc"/>
<rect x="717" y="656" width="1" height="156" fill="#dcdcdc"/>
<rect x="828" y="656" width="1" height="156" fill="#dcdcdc"/>
<rect x="2" y="656" width="896" height="1" fill="#dcdcdc"/>
<rect x="2" y="678" width="896" height="1" fill="#dcdcdc"/>
<rect x="2" y="701" width="896" height="1" fill="#dcdcdc"/>
<rect x="2" y="723" width="896" height="1" fill="#dcdcdc"/>
<rect x="2" y="745" width="896" height="1" fill="#dcdcdc"/>
<rect x="2" y="767" width="896" height="1" fill="#dcdcdc"/>
<rect x="2" y="790" width="896" height="1" fill="#dcdcdc"/>
<rect x="3.5" y="634.5" width="8" height="8" fill="#0000ff" stroke="#000" stroke-width="1"/>
<text x="16.1" y="643" font-size="11.2" fill="#000" stroke="#000" stroke-width="0.25" text-anchor="start" textLength="111" lengthAdjust="spacingAndGlyphs">MACD (26, 12): 1,3104</text>
<rect x="155.5" y="634.5" width="8" height="8" fill="#ff00ff" stroke="#000" stroke-width="1"/>
<text x="168.1" y="643" font-size="11.2" fill="#000" stroke="#000" stroke-width="0.25" text-anchor="start" textLength="76.5" lengthAdjust="spacingAndGlyphs">EXP (9): 3,7372</text>
<rect x="273.5" y="634.5" width="8" height="8" fill="#007800" stroke="#000" stroke-width="1"/>
<text x="286.1" y="643" font-size="11.2" fill="#000" stroke="#000" stroke-width="0.25" text-anchor="start" textLength="97" lengthAdjust="spacingAndGlyphs">Divergence: −2,4268</text>
<g shape-rendering="crispEdges">
<rect x="4" y="718" width="6" height="6" fill="#007800"/>
<rect x="13" y="719" width="6" height="5" fill="#007800"/>
<rect x="22" y="720" width="6" height="4" fill="#007800"/>
<rect x="31" y="722" width="6" height="2" fill="#007800"/>
<rect x="41" y="723" width="6" height="5" fill="#007800"/>
<rect x="50" y="723" width="6" height="6" fill="#007800"/>
<rect x="59" y="723" width="6" height="6" fill="#007800"/>
<rect x="68" y="723" width="6" height="6" fill="#007800"/>
<rect x="77" y="723" width="6" height="4" fill="#007800"/>
<rect x="87" y="723" width="6" height="3" fill="#007800"/>
<rect x="96" y="723" width="6" height="6" fill="#007800"/>
<rect x="105" y="723" width="6" height="7" fill="#007800"/>
<rect x="114" y="723" width="6" height="7" fill="#007800"/>
<rect x="124" y="723" width="6" height="10" fill="#007800"/>
<rect x="133" y="723" width="6" height="18" fill="#007800"/>
<rect x="142" y="723" width="6" height="25" fill="#007800"/>
<rect x="151" y="723" width="6" height="29" fill="#007800"/>
<rect x="160" y="723" width="6" height="32" fill="#007800"/>
<rect x="170" y="723" width="6" height="34" fill="#007800"/>
<rect x="179" y="723" width="6" height="31" fill="#007800"/>
<rect x="188" y="723" width="6" height="24" fill="#007800"/>
<rect x="197" y="723" width="6" height="18" fill="#007800"/>
<rect x="207" y="723" width="6" height="13" fill="#007800"/>
<rect x="216" y="723" width="6" height="6" fill="#007800"/>
<rect x="225" y="721" width="6" height="3" fill="#007800"/>
<rect x="234" y="718" width="6" height="6" fill="#007800"/>
<rect x="244" y="715" width="6" height="9" fill="#007800"/>
<rect x="253" y="711" width="6" height="13" fill="#007800"/>
<rect x="262" y="710" width="6" height="14" fill="#007800"/>
<rect x="271" y="710" width="6" height="14" fill="#007800"/>
<rect x="280" y="710" width="6" height="14" fill="#007800"/>
<rect x="290" y="707" width="6" height="17" fill="#007800"/>
<rect x="299" y="704" width="6" height="20" fill="#007800"/>
<rect x="308" y="705" width="6" height="19" fill="#007800"/>
<rect x="317" y="708" width="6" height="16" fill="#007800"/>
<rect x="327" y="707" width="6" height="17" fill="#007800"/>
<rect x="336" y="706" width="6" height="18" fill="#007800"/>
<rect x="345" y="704" width="6" height="20" fill="#007800"/>
<rect x="354" y="701" width="6" height="23" fill="#007800"/>
<rect x="363" y="701" width="6" height="23" fill="#007800"/>
<rect x="373" y="700" width="6" height="24" fill="#007800"/>
<rect x="382" y="700" width="6" height="24" fill="#007800"/>
<rect x="391" y="698" width="6" height="26" fill="#007800"/>
<rect x="400" y="699" width="6" height="25" fill="#007800"/>
<rect x="410" y="699" width="6" height="25" fill="#007800"/>
<rect x="419" y="704" width="6" height="20" fill="#007800"/>
<rect x="428" y="707" width="6" height="17" fill="#007800"/>
<rect x="437" y="711" width="6" height="13" fill="#007800"/>
<rect x="447" y="719" width="6" height="5" fill="#007800"/>
<rect x="456" y="723" width="6" height="7" fill="#007800"/>
<rect x="465" y="723" width="6" height="8" fill="#007800"/>
<rect x="474" y="723" width="6" height="9" fill="#007800"/>
<rect x="483" y="723" width="6" height="11" fill="#007800"/>
<rect x="493" y="723" width="6" height="8" fill="#007800"/>
<rect x="502" y="723" width="6" height="7" fill="#007800"/>
<rect x="511" y="723" width="6" height="4" fill="#007800"/>
<rect x="520" y="723" width="6" height="2" fill="#007800"/>
<rect x="530" y="723" width="6" height="5" fill="#007800"/>
<rect x="539" y="723" width="6" height="5" fill="#007800"/>
<rect x="548" y="723" width="6" height="6" fill="#007800"/>
<rect x="557" y="723" width="6" height="6" fill="#007800"/>
<rect x="566" y="723" width="6" height="6" fill="#007800"/>
<rect x="576" y="723" width="6" height="10" fill="#007800"/>
<rect x="585" y="723" width="6" height="13" fill="#007800"/>
<rect x="594" y="723" width="6" height="14" fill="#007800"/>
<rect x="603" y="723" width="6" height="11" fill="#007800"/>
<rect x="613" y="723" width="6" height="9" fill="#007800"/>
<rect x="622" y="723" width="6" height="7" fill="#007800"/>
<rect x="631" y="722" width="6" height="2" fill="#007800"/>
<rect x="640" y="719" width="6" height="5" fill="#007800"/>
<rect x="649" y="719" width="6" height="5" fill="#007800"/>
<rect x="659" y="715" width="6" height="9" fill="#007800"/>
<rect x="668" y="715" width="6" height="9" fill="#007800"/>
<rect x="677" y="713" width="6" height="11" fill="#007800"/>
<rect x="686" y="711" width="6" height="13" fill="#007800"/>
<rect x="696" y="711" width="6" height="13" fill="#007800"/>
<rect x="705" y="708" width="6" height="16" fill="#007800"/>
<rect x="714" y="711" width="6" height="13" fill="#007800"/>
<rect x="723" y="710" width="6" height="14" fill="#007800"/>
<rect x="733" y="708" width="6" height="16" fill="#007800"/>
<rect x="742" y="710" width="6" height="14" fill="#007800"/>
<rect x="751" y="710" width="6" height="14" fill="#007800"/>
<rect x="760" y="714" width="6" height="10" fill="#007800"/>
<rect x="769" y="718" width="6" height="6" fill="#007800"/>
<rect x="779" y="720" width="6" height="4" fill="#007800"/>
<rect x="788" y="718" width="6" height="6" fill="#007800"/>
<rect x="797" y="719" width="6" height="5" fill="#007800"/>
<rect x="806" y="719" width="6" height="5" fill="#007800"/>
<rect x="816" y="718" width="6" height="6" fill="#007800"/>
<rect x="825" y="720" width="6" height="4" fill="#007800"/>
<rect x="834" y="717" width="6" height="7" fill="#007800"/>
<rect x="843" y="720" width="6" height="4" fill="#007800"/>
<rect x="852" y="722" width="6" height="2" fill="#007800"/>
<rect x="862" y="723" width="6" height="3" fill="#007800"/>
<rect x="871" y="723" width="6" height="11" fill="#007800"/>
<rect x="880" y="723" width="6" height="21" fill="#007800"/>
<rect x="889" y="723" width="6" height="28" fill="#007800"/>
</g>
<polyline points="7.4,710.5 20.3,708.8 33.8,708.5 50.7,711.2 67.7,713.2 88.0,714.9 108.3,718.0 125.2,721.3 135.3,725.4 145.5,731.5 155.6,739.0 165.8,747.4 176.0,756.9 186.0,764.6 196.2,770.4 206.4,774.5 216.5,776.5 226.7,776.5 236.8,775.5 247.0,773.0 257.0,769.7 270.6,764.6 284.2,759.6 297.7,753.5 311.2,747.7 327.0,741.0 343.8,732.5 360.7,723.0 377.7,712.9 394.6,702.0 411.5,690.9 425.0,684.1 435.2,680.7 445.3,679.0 452.0,678.7 462.2,680.7 479.0,684.8 496.0,688.5 513.0,690.6 530.0,691.6 546.8,693.6 563.7,696.0 577.3,698.7 590.8,703.4 604.3,707.8 617.8,710.9 630.0,712.2 639.5,711.2 653.0,709.5 666.6,706.5 680.0,703.0 693.7,699.4 707.0,694.3 720.7,689.9 734.0,685.0 747.8,680.7 758.0,677.4 768.0,675.3 781.6,674.0 795.0,672.6 808.7,671.3 822.0,669.6 835.7,667.9 849.0,666.5 862.8,666.9 873.0,669.2 883.0,674.0 893.0,681.4" fill="none" stroke="#ff10f0" stroke-width="1.2"/>
<polyline points="7.4,705.8 25.4,706.1 33.8,709.5 44.0,713.9 54.0,717.0 71.0,718.6 81.0,717.3 89.6,717.3 99.8,721.3 108.3,723.7 118.4,724.7 126.9,729.8 135.3,740.0 145.5,756.9 155.6,768.0 164.0,777.2 173.2,788.0 182.7,793.0 191.0,791.0 200.3,788.0 209.7,787.3 220.0,780.5 228.3,775.5 236.8,770.4 247.0,765.3 257.0,758.6 265.6,754.0 274.7,751.0 284.0,746.7 292.6,740.0 302.8,733.2 311.0,730.8 320.0,729.8 330.3,723.0 340.4,718.0 350.6,709.5 364.0,699.4 374.3,692.6 384.4,685.8 394.6,677.4 404.7,671.3 413.2,666.9 423.3,666.2 431.8,665.9 442.0,668.9 450.4,674.0 460.5,686.8 469.0,689.2 477.5,691.9 486.6,696.6 496.0,696.0 506.2,695.3 514.7,693.6 523.8,691.9 533.3,696.0 543.4,697.7 551.9,699.4 560.3,701.0 569.8,702.0 579.0,708.5 589.0,715.3 597.6,718.3 607.7,719.0 616.2,719.0 624.6,717.3 634.5,712.2 643.6,707.0 652.4,706.0 661.9,701.0 671.0,697.7 680.0,694.3 689.3,689.5 698.7,685.8 707.9,680.0 717.0,679.7 726.0,675.0 736.0,671.3 745.0,668.9 753.9,665.5 763.0,667.2 772.0,670.0 782.0,671.6 791.0,668.6 800.0,668.9 809.0,667.2 818.8,664.8 828.0,666.2 837.0,661.5 846.0,663.8 855.4,665.5 864.8,669.6 874.0,679.0 883.0,694.3 893.0,708.5" fill="none" stroke="#2a2aff" stroke-width="1.2"/>
<text x="900.5" y="660.9" font-size="11.2" fill="#000" stroke="#000" stroke-width="0.25" text-anchor="start" textLength="5.9" lengthAdjust="spacingAndGlyphs">6</text>
<text x="900.5" y="683.3" font-size="11.2" fill="#000" stroke="#000" stroke-width="0.25" text-anchor="start" textLength="5.9" lengthAdjust="spacingAndGlyphs">4</text>
<text x="900.5" y="705.6" font-size="11.2" fill="#000" stroke="#000" stroke-width="0.25" text-anchor="start" textLength="5.9" lengthAdjust="spacingAndGlyphs">2</text>
<text x="900.5" y="727.9" font-size="11.2" fill="#000" stroke="#000" stroke-width="0.25" text-anchor="start" textLength="5.9" lengthAdjust="spacingAndGlyphs">0</text>
<text x="900.5" y="749.9" font-size="11.2" fill="#000" stroke="#000" stroke-width="0.25" text-anchor="start" textLength="12.0" lengthAdjust="spacingAndGlyphs">−2</text>
<text x="900.5" y="771.9" font-size="11.2" fill="#000" stroke="#000" stroke-width="0.25" text-anchor="start" textLength="12.0" lengthAdjust="spacingAndGlyphs">−4</text>
<text x="900.5" y="794.6" font-size="11.2" fill="#000" stroke="#000" stroke-width="0.25" text-anchor="start" textLength="12.0" lengthAdjust="spacingAndGlyphs">−6</text>
<text x="900.5" y="816.9" font-size="11.2" fill="#000" stroke="#000" stroke-width="0.25" text-anchor="start" textLength="12.0" lengthAdjust="spacingAndGlyphs">−8</text>
<rect x="2" y="845" width="1" height="155" fill="#cfcfcf"/>
<rect x="7" y="845" width="1" height="155" fill="#dcdcdc"/>
<rect x="897" y="845" width="1" height="155" fill="#cfcfcf"/>
<rect x="53" y="845" width="1" height="155" fill="#dcdcdc"/>
<rect x="163" y="845" width="1" height="155" fill="#dcdcdc"/>
<rect x="274" y="845" width="1" height="155" fill="#dcdcdc"/>
<rect x="385" y="845" width="1" height="155" fill="#dcdcdc"/>
<rect x="496" y="845" width="1" height="155" fill="#dcdcdc"/>
<rect x="606" y="845" width="1" height="155" fill="#dcdcdc"/>
<rect x="717" y="845" width="1" height="155" fill="#dcdcdc"/>
<rect x="828" y="845" width="1" height="155" fill="#dcdcdc"/>
<rect x="2" y="845" width="896" height="1" fill="#dcdcdc"/>
<rect x="2" y="876" width="896" height="1" fill="#dcdcdc"/>
<rect x="2" y="907" width="896" height="1" fill="#dcdcdc"/>
<rect x="2" y="938" width="896" height="1" fill="#dcdcdc"/>
<rect x="2" y="969" width="896" height="1" fill="#dcdcdc"/>
<rect x="2" y="1000" width="896" height="1" fill="#cfcfcf"/>
<rect x="3.5" y="823.5" width="8" height="8" fill="#006666" stroke="#000" stroke-width="1"/>
<text x="16.1" y="832" font-size="11.2" fill="#000" stroke="#000" stroke-width="0.25" text-anchor="start" textLength="155.5" lengthAdjust="spacingAndGlyphs">Slow Stochastic %K (14): 6,2475</text>
<rect x="199.5" y="823.5" width="8" height="8" fill="#6e6e00" stroke="#000" stroke-width="1"/>
<text x="212.1" y="832" font-size="11.2" fill="#000" stroke="#000" stroke-width="0.25" text-anchor="start" textLength="72" lengthAdjust="spacingAndGlyphs">%D (3): 19,598</text>
<polyline points="7.4,913.0 16.2,953.7 25.4,981.8 34.5,995.0 44.0,996.7 53.0,998.0 62.6,998.7 71.7,998.7 81.2,997.7 89.6,997.3 99.8,997.3 108.3,997.7 117.7,998.4 126.9,997.7 136.3,994.3 145.5,988.2 154.6,982.0 164.0,981.0 173.5,984.0 182.7,987.5 191.8,983.5 201.3,972.3 210.4,960.5 220.0,950.3 229.0,943.6 237.8,934.8 247.0,928.3 256.0,919.9 265.6,908.4 274.7,891.0 284.2,874.9 293.3,865.7 302.8,861.3 311.2,861.7 320.8,868.5 330.3,876.6 339.4,878.6 348.9,870.0 358.0,862.0 366.8,856.3 376.0,854.6 385.0,852.9 394.6,850.9 403.7,850.2 413.2,850.2 422.3,852.6 431.8,855.9 441.0,863.0 450.4,872.5 459.5,893.5 468.3,914.0 477.5,933.4 486.6,932.7 496.0,925.6 505.5,914.0 514.7,903.0 523.8,891.8 533.3,885.4 542.4,887.4 551.5,894.5 560.3,897.9 569.8,896.9 579.0,897.2 588.0,904.3 597.6,922.2 606.7,935.8 616.2,941.9 625.3,932.7 634.5,914.8 643.6,894.5 652.7,876.6 661.9,870.0 671.0,872.8 680.0,873.9 689.3,871.5 698.7,864.7 707.9,859.0 717.0,856.3 726.0,854.9 736.0,856.3 745.0,854.2 753.9,852.9 763.0,854.6 772.0,862.4 782.0,873.5 791.0,878.3 800.0,876.9 809.0,870.5 818.8,867.8 828.0,867.4 837.0,868.0 846.0,873.2 855.4,880.3 864.8,897.9 874.0,919.2 883.0,945.2 893.0,970.6" fill="none" stroke="#74740a" stroke-width="1.2"/>
<polyline points="7.4,955.4 16.2,995.3 25.4,995.0 34.5,996.0 44.0,997.7 53.0,999.0 62.6,998.7 71.7,998.0 81.2,997.3 89.6,997.0 99.8,997.7 108.3,998.4 117.7,998.7 126.9,996.0 136.3,986.9 145.5,981.4 154.6,978.0 164.0,984.0 173.5,990.6 182.7,988.2 191.8,973.3 201.3,957.0 210.4,951.0 220.0,943.6 229.0,935.8 237.8,925.0 247.0,923.6 256.0,911.4 265.6,889.4 274.7,871.5 284.2,863.7 293.3,862.4 302.8,857.6 311.2,865.7 320.8,882.3 330.3,881.0 339.4,872.5 348.9,856.6 358.0,857.0 366.8,855.6 376.0,852.6 385.0,850.9 394.6,849.2 403.7,851.2 413.2,851.2 422.3,856.3 431.8,860.3 441.0,872.5 450.4,884.0 459.5,925.0 468.3,935.4 477.5,940.5 486.6,921.9 496.0,914.0 505.5,906.3 514.7,887.7 523.8,881.0 533.3,887.7 542.4,893.5 551.5,902.3 560.3,896.9 569.8,891.5 579.0,903.0 588.0,918.2 597.6,945.2 606.7,943.9 616.2,935.8 625.3,918.2 634.5,892.8 643.6,870.8 652.7,866.4 661.9,873.2 671.0,879.0 680.0,869.8 689.3,865.7 698.7,858.3 707.9,852.2 717.0,858.0 726.0,854.6 736.0,857.0 745.0,850.9 753.9,851.2 763.0,862.4 772.0,874.2 782.0,884.3 791.0,875.2 800.0,870.8 809.0,865.0 818.8,867.4 828.0,870.5 837.0,866.8 846.0,883.0 855.4,891.5 864.8,919.9 874.0,946.9 883.0,970.6 893.0,990.2" fill="none" stroke="#0c7474" stroke-width="1.2"/>
<text x="900.5" y="849.9" font-size="11.2" fill="#000" stroke="#000" stroke-width="0.25" text-anchor="start" textLength="17.6" lengthAdjust="spacingAndGlyphs">100</text>
<text x="900.5" y="880.9" font-size="11.2" fill="#000" stroke="#000" stroke-width="0.25" text-anchor="start" textLength="11.7" lengthAdjust="spacingAndGlyphs">80</text>
<text x="900.5" y="911.6" font-size="11.2" fill="#000" stroke="#000" stroke-width="0.25" text-anchor="start" textLength="11.7" lengthAdjust="spacingAndGlyphs">60</text>
<text x="900.5" y="942.6999999999999" font-size="11.2" fill="#000" stroke="#000" stroke-width="0.25" text-anchor="start" textLength="11.7" lengthAdjust="spacingAndGlyphs">40</text>
<text x="900.5" y="973.9" font-size="11.2" fill="#000" stroke="#000" stroke-width="0.25" text-anchor="start" textLength="11.7" lengthAdjust="spacingAndGlyphs">20</text>
<text x="900.5" y="1004.6" font-size="11.2" fill="#000" stroke="#000" stroke-width="0.25" text-anchor="start" textLength="5.9" lengthAdjust="spacingAndGlyphs">0</text>
<rect x="2" y="1034" width="1" height="156" fill="#cfcfcf"/>
<rect x="7" y="1034" width="1" height="156" fill="#dcdcdc"/>
<rect x="897" y="1034" width="1" height="156" fill="#cfcfcf"/>
<rect x="53" y="1034" width="1" height="156" fill="#dcdcdc"/>
<rect x="163" y="1034" width="1" height="156" fill="#dcdcdc"/>
<rect x="274" y="1034" width="1" height="156" fill="#dcdcdc"/>
<rect x="385" y="1034" width="1" height="156" fill="#dcdcdc"/>
<rect x="496" y="1034" width="1" height="156" fill="#dcdcdc"/>
<rect x="606" y="1034" width="1" height="156" fill="#dcdcdc"/>
<rect x="717" y="1034" width="1" height="156" fill="#dcdcdc"/>
<rect x="828" y="1034" width="1" height="156" fill="#dcdcdc"/>
<rect x="2" y="1034" width="896" height="1" fill="#dcdcdc"/>
<rect x="2" y="1065" width="896" height="1" fill="#dcdcdc"/>
<rect x="2" y="1096" width="896" height="1" fill="#dcdcdc"/>
<rect x="2" y="1128" width="896" height="1" fill="#dcdcdc"/>
<rect x="2" y="1159" width="896" height="1" fill="#dcdcdc"/>
<rect x="3.5" y="1012.5" width="8" height="8" fill="#800080" stroke="#000" stroke-width="1"/>
<text x="16.1" y="1021" font-size="11.2" fill="#000" stroke="#000" stroke-width="0.25" text-anchor="start" textLength="72.5" lengthAdjust="spacingAndGlyphs">RSI (9): 31,472</text>
<clipPath id="c70"><rect x="0" y="1034" width="900" height="47.5"/></clipPath>
<clipPath id="c30"><rect x="0" y="1143.5" width="900" height="46.5"/></clipPath>
<polygon clip-path="url(#c70)" points="7.4,1081.5 7.4,1106.9 16.2,1102.8 25.4,1103.5 34.5,1121.0 44.0,1130.6 53.0,1123.0 62.6,1116.0 71.7,1114.0 81.2,1102.0 89.6,1108.6 99.0,1132.2 108.3,1126.8 117.7,1122.8 126.9,1138.3 136.3,1156.0 145.5,1165.0 154.6,1163.7 164.0,1166.4 173.5,1170.5 182.7,1150.2 191.8,1129.5 201.0,1127.5 210.4,1134.6 220.0,1116.3 229.0,1113.0 237.8,1112.0 247.0,1113.3 256.0,1103.0 265.6,1107.5 274.7,1112.3 284.2,1107.2 293.3,1094.4 302.8,1086.2 311.2,1103.8 320.8,1110.6 330.3,1092.0 339.4,1091.6 348.9,1082.2 358.0,1076.8 366.8,1078.8 376.0,1072.4 385.0,1071.0 394.6,1064.2 403.7,1064.2 413.2,1061.2 422.3,1083.5 431.8,1081.2 441.0,1096.0 450.4,1111.0 459.5,1135.6 468.3,1109.2 477.5,1110.6 486.6,1116.3 496.0,1102.0 505.5,1102.5 514.7,1096.7 523.8,1095.0 533.3,1114.3 542.4,1106.9 551.5,1110.3 560.3,1110.3 569.8,1107.9 579.0,1128.9 588.0,1132.9 597.6,1123.8 606.7,1113.6 616.2,1112.0 625.3,1106.9 634.5,1088.6 643.6,1085.2 652.7,1101.0 661.9,1087.2 671.0,1092.0 680.0,1087.0 689.3,1081.2 698.7,1080.5 707.9,1072.4 717.0,1093.3 726.0,1080.8 736.0,1079.5 745.0,1079.0 753.9,1074.0 763.0,1094.4 772.0,1100.0 782.0,1094.0 791.0,1080.0 800.0,1092.0 809.0,1086.2 818.8,1080.5 828.0,1093.3 837.0,1079.0 846.0,1101.8 855.4,1098.0 864.8,1105.2 874.0,1123.0 883.0,1139.0 893.0,1141.4 893,1081.5" fill="#ff6868"/>
<polygon clip-path="url(#c30)" points="7.4,1143.5 7.4,1106.9 16.2,1102.8 25.4,1103.5 34.5,1121.0 44.0,1130.6 53.0,1123.0 62.6,1116.0 71.7,1114.0 81.2,1102.0 89.6,1108.6 99.0,1132.2 108.3,1126.8 117.7,1122.8 126.9,1138.3 136.3,1156.0 145.5,1165.0 154.6,1163.7 164.0,1166.4 173.5,1170.5 182.7,1150.2 191.8,1129.5 201.0,1127.5 210.4,1134.6 220.0,1116.3 229.0,1113.0 237.8,1112.0 247.0,1113.3 256.0,1103.0 265.6,1107.5 274.7,1112.3 284.2,1107.2 293.3,1094.4 302.8,1086.2 311.2,1103.8 320.8,1110.6 330.3,1092.0 339.4,1091.6 348.9,1082.2 358.0,1076.8 366.8,1078.8 376.0,1072.4 385.0,1071.0 394.6,1064.2 403.7,1064.2 413.2,1061.2 422.3,1083.5 431.8,1081.2 441.0,1096.0 450.4,1111.0 459.5,1135.6 468.3,1109.2 477.5,1110.6 486.6,1116.3 496.0,1102.0 505.5,1102.5 514.7,1096.7 523.8,1095.0 533.3,1114.3 542.4,1106.9 551.5,1110.3 560.3,1110.3 569.8,1107.9 579.0,1128.9 588.0,1132.9 597.6,1123.8 606.7,1113.6 616.2,1112.0 625.3,1106.9 634.5,1088.6 643.6,1085.2 652.7,1101.0 661.9,1087.2 671.0,1092.0 680.0,1087.0 689.3,1081.2 698.7,1080.5 707.9,1072.4 717.0,1093.3 726.0,1080.8 736.0,1079.5 745.0,1079.0 753.9,1074.0 763.0,1094.4 772.0,1100.0 782.0,1094.0 791.0,1080.0 800.0,1092.0 809.0,1086.2 818.8,1080.5 828.0,1093.3 837.0,1079.0 846.0,1101.8 855.4,1098.0 864.8,1105.2 874.0,1123.0 883.0,1139.0 893.0,1141.4 893,1143.5" fill="#6666f2"/>
<rect x="2" y="1081" width="896" height="1" fill="#f07060"/>
<rect x="2" y="1143" width="896" height="1" fill="#6060ee"/>
<polyline points="7.4,1106.9 16.2,1102.8 25.4,1103.5 34.5,1121.0 44.0,1130.6 53.0,1123.0 62.6,1116.0 71.7,1114.0 81.2,1102.0 89.6,1108.6 99.0,1132.2 108.3,1126.8 117.7,1122.8 126.9,1138.3 136.3,1156.0 145.5,1165.0 154.6,1163.7 164.0,1166.4 173.5,1170.5 182.7,1150.2 191.8,1129.5 201.0,1127.5 210.4,1134.6 220.0,1116.3 229.0,1113.0 237.8,1112.0 247.0,1113.3 256.0,1103.0 265.6,1107.5 274.7,1112.3 284.2,1107.2 293.3,1094.4 302.8,1086.2 311.2,1103.8 320.8,1110.6 330.3,1092.0 339.4,1091.6 348.9,1082.2 358.0,1076.8 366.8,1078.8 376.0,1072.4 385.0,1071.0 394.6,1064.2 403.7,1064.2 413.2,1061.2 422.3,1083.5 431.8,1081.2 441.0,1096.0 450.4,1111.0 459.5,1135.6 468.3,1109.2 477.5,1110.6 486.6,1116.3 496.0,1102.0 505.5,1102.5 514.7,1096.7 523.8,1095.0 533.3,1114.3 542.4,1106.9 551.5,1110.3 560.3,1110.3 569.8,1107.9 579.0,1128.9 588.0,1132.9 597.6,1123.8 606.7,1113.6 616.2,1112.0 625.3,1106.9 634.5,1088.6 643.6,1085.2 652.7,1101.0 661.9,1087.2 671.0,1092.0 680.0,1087.0 689.3,1081.2 698.7,1080.5 707.9,1072.4 717.0,1093.3 726.0,1080.8 736.0,1079.5 745.0,1079.0 753.9,1074.0 763.0,1094.4 772.0,1100.0 782.0,1094.0 791.0,1080.0 800.0,1092.0 809.0,1086.2 818.8,1080.5 828.0,1093.3 837.0,1079.0 846.0,1101.8 855.4,1098.0 864.8,1105.2 874.0,1123.0 883.0,1139.0 893.0,1141.4" fill="none" stroke="#861a92" stroke-width="1.2"/>
<text x="900.5" y="1038.9" font-size="11.2" fill="#000" stroke="#000" stroke-width="0.25" text-anchor="start" textLength="17.6" lengthAdjust="spacingAndGlyphs">100</text>
<text x="900.5" y="1070.2" font-size="11.2" fill="#000" stroke="#000" stroke-width="0.25" text-anchor="start" textLength="11.7" lengthAdjust="spacingAndGlyphs">80</text>
<text x="900.5" y="1086.1000000000001" font-size="11.2" fill="#ff5050" stroke="#ff5050" stroke-width="0.25" text-anchor="start" textLength="11.7" lengthAdjust="spacingAndGlyphs">70</text>
<text x="900.5" y="1101.3000000000002" font-size="11.2" fill="#000" stroke="#000" stroke-width="0.25" text-anchor="start" textLength="11.7" lengthAdjust="spacingAndGlyphs">60</text>
<text x="900.5" y="1133.1000000000001" font-size="11.2" fill="#000" stroke="#000" stroke-width="0.25" text-anchor="start" textLength="11.7" lengthAdjust="spacingAndGlyphs">40</text>
<text x="900.5" y="1147.9" font-size="11.2" fill="#5858ff" stroke="#5858ff" stroke-width="0.25" text-anchor="start" textLength="11.7" lengthAdjust="spacingAndGlyphs">30</text>
<text x="900.5" y="1163.9" font-size="11.2" fill="#000" stroke="#000" stroke-width="0.25" text-anchor="start" textLength="11.7" lengthAdjust="spacingAndGlyphs">20</text>
<text x="900.5" y="1194.7" font-size="11.2" fill="#000" stroke="#000" stroke-width="0.25" text-anchor="start" textLength="5.9" lengthAdjust="spacingAndGlyphs">0</text>
</svg>
</body></html>
